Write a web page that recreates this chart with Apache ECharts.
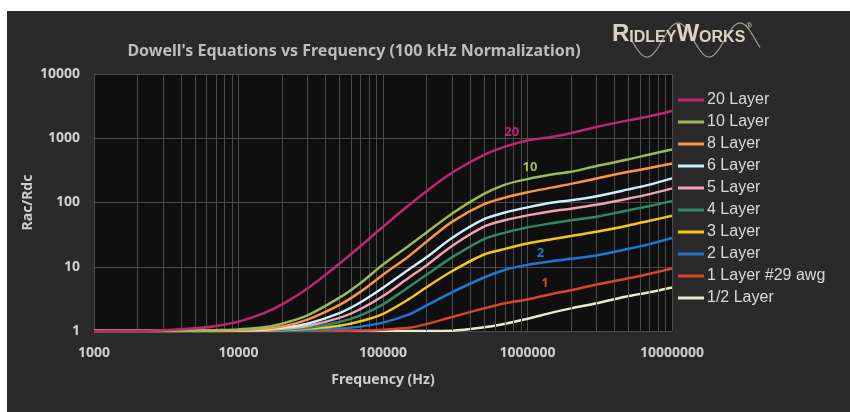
<!DOCTYPE html>
<html>
<head>
<meta charset="utf-8">
<script src="https://cdn.jsdelivr.net/npm/echarts@6/dist/echarts.min.js"></script>
<style>
  html, body { margin: 0; padding: 0; background: #ffffff; }
  #main { position: absolute; left: 7px; top: 11px; width: 843px; height: 401px; }
</style>
</head>
<body>
<div id="main"></div>
<script>
  // frequency points (Hz) where the curves were read
  const freqs = [1000, 2000, 3000, 5000, 7000, 10000, 15000, 20000, 30000, 50000, 70000,
    100000, 150000, 200000, 300000, 500000, 700000, 1000000, 1500000, 2000000, 3000000,
    5000000, 7000000, 10000000];

  // Rac/Rdc per winding, same order as freqs
  const layer20 = [1, 1.01, 1.03, 1.1, 1.2, 1.4, 1.9, 2.6, 4.6, 11.2, 21, 42, 90, 150, 290, 550, 740, 920, 1060, 1200, 1500, 1900, 2200, 2650];
  const layer10 = [1, 1, 1, 1.01, 1.03, 1.06, 1.14, 1.3, 1.75, 3.3, 5.6, 10.8, 21, 34, 67, 136, 190, 232, 275, 300, 370, 470, 560, 670];
  const layer8 = [1, 1, 1, 1, 1.01, 1.03, 1.08, 1.17, 1.5, 2.55, 4.1, 7.5, 14.5, 24.5, 50, 94, 119, 144, 172, 195, 237, 300, 345, 405];
  const layer6 = [1, 1, 1, 1, 1, 1.02, 1.05, 1.12, 1.3, 1.9, 2.8, 4.7, 9, 14, 28, 55, 70, 84, 100, 108, 125, 160, 190, 237];
  const layer5 = [1, 1, 1, 1, 1, 1.01, 1.04, 1.08, 1.2, 1.6, 2.2, 3.5, 6.7, 10.5, 21, 42, 53, 63, 74, 80, 92, 115, 135, 166];
  const layer4 = [1, 1, 1, 1, 1, 1.01, 1.03, 1.05, 1.12, 1.38, 1.75, 2.6, 4.8, 7.5, 14, 27, 34, 41, 48, 53, 60, 76, 88, 106];
  const layer3 = [1, 1, 1, 1, 1, 1, 1.01, 1.03, 1.08, 1.21, 1.42, 1.85, 3.1, 4.8, 8.5, 15.5, 19, 23, 27, 30, 35, 44, 52, 62];
  const layer2 = [1, 1, 1, 1, 1, 1, 1, 1.01, 1.03, 1.09, 1.17, 1.35, 1.8, 2.5, 4, 6.8, 9, 10.7, 12.3, 13.3, 15, 19, 22.5, 28];
  const layer1 = [1, 1, 1, 1, 1, 1, 1, 1, 1, 1.01, 1.02, 1.05, 1.12, 1.28, 1.65, 2.25, 2.7, 3.1, 3.8, 4.3, 5.3, 6.6, 7.8, 9.4];
  const layerHalf = [1, 1, 1, 1, 1, 1, 1, 1, 1, 1, 1, 1, 1, 1, 1.01, 1.14, 1.3, 1.55, 1.95, 2.25, 2.7, 3.5, 4, 4.75];

  const names = ['20 Layer', '10 Layer', '8 Layer', '6 Layer', '5 Layer', '4 Layer', '3 Layer', '2 Layer', '1 Layer #29 awg', '1/2 Layer'];
  const values = [layer20, layer10, layer8, layer6, layer5, layer4, layer3, layer2, layer1, layerHalf];
  const colors = ['#c0266f', '#9bbb59', '#f79646', '#cdeefa', '#f2a0b2', '#2e8a66', '#f5c518', '#1f78d0', '#d6452c', '#e6ead0'];

  // in-plot curve tags: [series index, text, freq, value]
  const tags = [[0, '20', 777000, 1260], [1, '10', 1040000, 355], [7, '2', 1230000, 16.2], [8, '1', 1320000, 5.6]];

  // minor vertical grid lines
  const minorFreqs = [2000, 3000, 4000, 5000, 6000, 7000, 8000, 9000,
    20000, 30000, 40000, 50000, 60000, 70000, 80000, 90000,
    200000, 300000, 400000, 500000, 600000, 700000, 800000, 900000,
    2000000, 3000000, 4000000, 5000000, 6000000, 7000000, 8000000, 9000000];

  const gridColor = '#4b4b4b';
  const textColor = '#cfcfcf';
  const font = 'Noto Sans';

  const chart = echarts.init(document.getElementById('main'));

  const series = names.map((name, i) => {
    const s = {
      name: name,
      type: 'line',
      data: freqs.map((f, k) => [f, values[i][k]]),
      showSymbol: false,
      smooth: 0.3,
      lineStyle: {color: colors[i], width: 2.5},
      itemStyle: {color: colors[i]},
      z: 3 + (names.length - i),
      animation: false
    };
    const myTags = tags.filter(t => t[0] === i);
    if (myTags.length) {
      s.markPoint = {
        symbol: 'circle',
        symbolSize: 1,
        silent: true,
        itemStyle: {color: 'rgba(0,0,0,0)'},
        label: {
          show: true,
          position: 'inside',
          color: colors[i],
          fontFamily: font,
          fontWeight: 'bold',
          fontSize: 13
        },
        data: myTags.map(t => ({coord: [t[2], t[3]], value: t[1]}))
      };
    }
    return s;
  });

  series.push({
    name: 'minor',
    type: 'line',
    data: [],
    z: 1,
    silent: true,
    animation: false,
    markLine: {
      symbol: 'none',
      silent: true,
      animation: false,
      label: {show: false},
      lineStyle: {color: gridColor, width: 1, type: 'solid'},
      data: minorFreqs.map(f => ({xAxis: f}))
    }
  });

  // RidleyWorks logo wave
  const wave = [];
  for (let x = 625; x <= 753; x += 1) {
    wave.push([x, 29 - 17 * Math.cos((x - 671) / 62 * 2 * Math.PI)]);
  }

  chart.setOption({
    backgroundColor: '#2a2a2a',
    animation: false,
    title: {
      text: "Dowell's Equations vs Frequency (100 kHz Normalization)",
      left: 342,
      top: 27,
      textAlign: 'center',
      textStyle: {color: '#bdbdbd', fontFamily: font, fontWeight: 'bold', fontSize: 16}
    },
    legend: {
      data: names,
      orient: 'vertical',
      left: 666,
      top: 76,
      itemWidth: 26,
      itemHeight: 3,
      itemGap: 6,
      icon: 'rect',
      textStyle: {color: '#d9d9d9', fontFamily: 'Liberation Sans', fontSize: 16, lineHeight: 16, padding: [0, 0, 0, -2]}
    },
    grid: {
      left: 87,
      top: 63,
      width: 578,
      height: 257,
      show: true,
      backgroundColor: '#0f0f10',
      borderWidth: 0
    },
    xAxis: {
      type: 'log',
      logBase: 10,
      min: 1000,
      max: 10000000,
      name: 'Frequency (Hz)',
      nameLocation: 'middle',
      nameGap: 42,
      nameMoveOverlap: false,
      nameTextStyle: {color: textColor, fontFamily: font, fontWeight: 'bold', fontSize: 14},
      axisLine: {show: false},
      axisTick: {show: false},
      axisLabel: {color: textColor, fontFamily: font, fontWeight: 'bold', fontSize: 14, margin: 15, formatter: v => String(v)},
      splitLine: {show: true, lineStyle: {color: gridColor, width: 1}}
    },
    yAxis: {
      type: 'log',
      logBase: 10,
      min: 1,
      max: 10000,
      name: 'Rac/Rdc',
      nameLocation: 'middle',
      nameRotate: 90,
      nameGap: 59,
      nameMoveOverlap: false,
      nameTextStyle: {color: textColor, fontFamily: font, fontWeight: 'bold', fontSize: 14},
      axisLine: {show: false},
      axisTick: {show: false},
      axisLabel: {color: textColor, fontFamily: font, fontWeight: 'bold', fontSize: 14, margin: 14, formatter: v => String(v)},
      splitLine: {show: true, lineStyle: {color: gridColor, width: 1}}
    },
    graphic: [
      {
        type: 'polyline',
        silent: true,
        shape: {points: wave},
        style: {stroke: '#a49d92', lineWidth: 1.2, fill: null}
      },
      {
        type: 'text',
        left: 605,
        top: 11,
        silent: true,
        style: {
          text: '{a|R}{b|IDLEY}{a|W}{b|ORKS}{c|®}',
          rich: {
            a: {fontFamily: 'Liberation Sans', fontWeight: 'bold', fontSize: 24, lineHeight: 24, fill: '#dbd3c3', verticalAlign: 'bottom'},
            b: {fontFamily: 'Liberation Sans', fontWeight: 'bold', fontSize: 16, lineHeight: 16, fill: '#dbd3c3', verticalAlign: 'bottom'},
            c: {fontFamily: 'Liberation Sans', fontSize: 8, fill: '#dbd3c3', verticalAlign: 'top', padding: [0, 0, 8, 1]}
          }
        }
      }
    ],
    series: series
  });
</script>
</body>
</html>
